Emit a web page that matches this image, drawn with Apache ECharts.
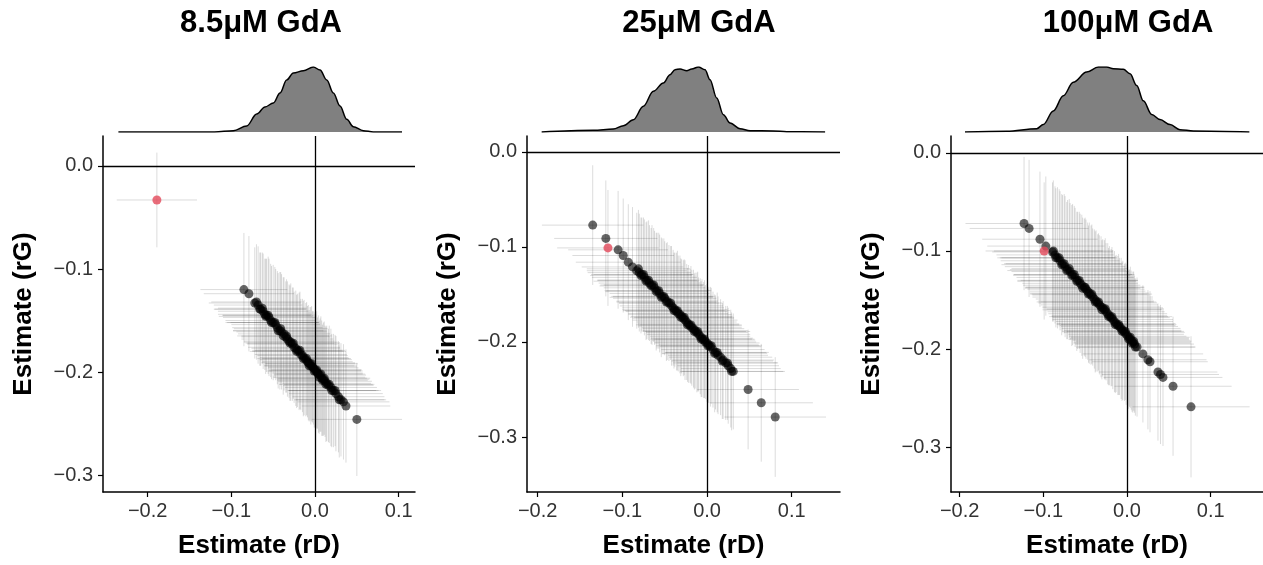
<!DOCTYPE html>
<html><head><meta charset="utf-8">
<script src="https://cdn.jsdelivr.net/npm/echarts@6.0.0/dist/echarts.min.js"></script>
<style>html,body{margin:0;padding:0;background:#fff}#c{width:1263px;height:565px}</style>
</head><body><div id="c"></div>
<script>
// ---------- DATA ----------
const panelTitles = ['8.5μM GdA', '25μM GdA', '100μM GdA'];
const xTickValues = [-0.2, -0.1, 0.0, 0.1];
const yTickValues = [-0.3, -0.2, -0.1, 0.0];
const xName = 'Estimate (rD)';
const yName = 'Estimate (rG)';

// Panel 1 (8.5µM)
const p1_rD = [
 -0.085,-0.079,-0.072,-0.068,-0.065,-0.062,-0.060,-0.058,-0.055,-0.053,
 -0.050,-0.047,-0.045,-0.042,-0.040,-0.037,-0.035,-0.033,-0.031,-0.029,
 -0.027,-0.025,-0.023,-0.021,-0.019,-0.017,-0.015,-0.013,-0.011,-0.009,
 -0.008,-0.006,-0.005,-0.003,-0.002,0.000,0.001,0.003,0.004,0.006,
 0.008,0.010,0.012,0.014,0.016,0.019,0.022,0.025,0.028,0.031,
 0.034,0.037,0.050,
 -0.070,-0.066,-0.063,-0.059,-0.056,-0.052,-0.048,-0.044,-0.041,-0.038,
 -0.034,-0.030,-0.026,-0.022,-0.018,-0.014,-0.010,-0.007,-0.004,-0.001,
 0.002,0.005,0.007,0.009,0.011,0.013,0.017,0.020,0.024,0.029];
const p1_rG = [
 -0.120,-0.124,-0.133,-0.135,-0.139,-0.141,-0.144,-0.145,-0.147,-0.150,
 -0.152,-0.154,-0.157,-0.160,-0.161,-0.163,-0.166,-0.168,-0.170,-0.171,
 -0.173,-0.176,-0.177,-0.179,-0.180,-0.183,-0.184,-0.186,-0.188,-0.190,
 -0.191,-0.192,-0.194,-0.195,-0.196,-0.198,-0.199,-0.201,-0.202,-0.203,
 -0.206,-0.207,-0.209,-0.211,-0.213,-0.215,-0.218,-0.221,-0.224,-0.227,
 -0.229,-0.233,-0.246,
 -0.132,-0.139,-0.138,-0.146,-0.145,-0.152,-0.152,-0.160,-0.158,-0.165,
 -0.165,-0.172,-0.172,-0.180,-0.179,-0.187,-0.187,-0.194,-0.192,-0.199,
 -0.198,-0.205,-0.202,-0.208,-0.206,-0.212,-0.212,-0.218,-0.218,-0.227];
const p1_ciD = [
 0.052,0.054,0.055,0.053,0.055,0.054,0.056,0.053,0.055,0.054,
 0.055,0.053,0.054,0.056,0.054,0.055,0.053,0.055,0.054,0.056,
 0.054,0.055,0.053,0.054,0.056,0.055,0.054,0.053,0.055,0.054,
 0.056,0.054,0.055,0.053,0.054,0.055,0.056,0.054,0.053,0.055,
 0.054,0.055,0.056,0.053,0.054,0.055,0.054,0.056,0.055,0.054,
 0.055,0.053,0.054,
 0.054,0.055,0.053,0.056,0.054,0.055,0.053,0.054,0.056,0.055,
 0.054,0.053,0.055,0.056,0.054,0.055,0.053,0.054,0.055,0.056,
 0.054,0.055,0.053,0.054,0.055,0.056,0.054,0.053,0.055,0.054];
const p1_ciG = [
 0.055,0.056,0.054,0.057,0.055,0.056,0.054,0.055,0.057,0.055,
 0.056,0.054,0.055,0.057,0.056,0.055,0.054,0.056,0.055,0.057,
 0.055,0.054,0.056,0.055,0.057,0.054,0.055,0.056,0.055,0.054,
 0.056,0.055,0.057,0.054,0.055,0.056,0.055,0.054,0.057,0.055,
 0.056,0.055,0.054,0.056,0.055,0.057,0.055,0.056,0.054,0.055,
 0.056,0.055,0.055,
 0.056,0.055,0.054,0.056,0.057,0.055,0.054,0.056,0.055,0.057,
 0.055,0.056,0.054,0.055,0.057,0.056,0.055,0.054,0.056,0.055,
 0.057,0.055,0.056,0.054,0.055,0.056,0.057,0.055,0.054,0.056];
const p1_hl = {rD: -0.189, rG: -0.033, ciD: 0.048, ciG: 0.046};
const p1_densX = [-0.235,-0.120,-0.0976,-0.0817,-0.0697,-0.0598,-0.0498,-0.0418,-0.0339,-0.0259,-0.0139,-0.002,0.006,0.014,0.0219,0.0299,0.0379,0.0458,0.0578,0.0697,0.104];
const p1_densY = [0,0,0.26,1.2,3.6,5.0,5.8,7.8,10.4,11.8,12.26,13.0,12.4,10.4,7.8,5.2,2.54,1.06,0.26,0,0];

// Panel 2 (25µM)
const p2_rD = [
 -0.135,-0.1195,-0.105,-0.099,-0.093,-0.088,-0.083,-0.080,-0.077,-0.074,
 -0.071,-0.068,-0.065,-0.062,-0.059,-0.056,-0.053,-0.050,-0.047,-0.045,
 -0.042,-0.040,-0.038,-0.036,-0.034,-0.032,-0.030,-0.028,-0.026,-0.024,
 -0.022,-0.020,-0.018,-0.016,-0.014,-0.012,-0.010,-0.008,-0.006,-0.004,
 -0.002,0.000,0.002,0.004,0.007,0.010,0.013,0.016,0.019,0.022,
 0.025,0.028,0.031,0.0485,0.064,0.0805,
 -0.081,-0.078,-0.075,-0.072,-0.069,-0.066,-0.063,-0.060,-0.057,-0.054,
 -0.051,-0.048,-0.043,-0.039,-0.035,-0.031,-0.027,-0.023,-0.019,-0.015,
 -0.011,-0.007,-0.003,0.001,0.005,0.009,0.012,0.018,0.024,0.029];
const p2_rG = [
 -0.077,-0.091,-0.103,-0.109,-0.116,-0.121,-0.125,-0.127,-0.129,-0.132,
 -0.135,-0.138,-0.140,-0.143,-0.146,-0.149,-0.152,-0.154,-0.157,-0.159,
 -0.162,-0.164,-0.166,-0.168,-0.170,-0.171,-0.173,-0.175,-0.177,-0.179,
 -0.181,-0.183,-0.185,-0.186,-0.188,-0.190,-0.192,-0.194,-0.196,-0.198,
 -0.200,-0.201,-0.203,-0.205,-0.208,-0.211,-0.214,-0.216,-0.219,-0.222,
 -0.225,-0.228,-0.231,-0.250,-0.264,-0.279,
 -0.123,-0.130,-0.129,-0.136,-0.135,-0.141,-0.140,-0.147,-0.146,-0.153,
 -0.152,-0.158,-0.159,-0.167,-0.167,-0.174,-0.174,-0.182,-0.182,-0.189,
 -0.189,-0.197,-0.197,-0.204,-0.204,-0.212,-0.211,-0.220,-0.222,-0.231];
const p2_ciD = [
 0.060,0.061,0.059,0.060,0.062,0.060,0.059,0.061,0.060,0.062,
 0.059,0.060,0.061,0.060,0.062,0.059,0.060,0.061,0.060,0.059,
 0.061,0.060,0.062,0.060,0.059,0.061,0.060,0.060,0.062,0.059,
 0.060,0.061,0.059,0.060,0.062,0.060,0.061,0.059,0.060,0.061,
 0.060,0.062,0.059,0.060,0.061,0.060,0.059,0.061,0.060,0.062,
 0.060,0.059,0.061,0.060,0.061,0.060,
 0.061,0.060,0.059,0.062,0.060,0.061,0.059,0.060,0.062,0.061,
 0.060,0.059,0.061,0.060,0.062,0.060,0.059,0.061,0.060,0.061,
 0.062,0.060,0.059,0.061,0.060,0.062,0.061,0.060,0.059,0.061];
const p2_ciG = [
 0.063,0.061,0.062,0.060,0.061,0.063,0.061,0.062,0.060,0.061,
 0.062,0.061,0.063,0.060,0.061,0.062,0.061,0.060,0.062,0.061,
 0.063,0.061,0.060,0.062,0.061,0.062,0.060,0.061,0.063,0.061,
 0.062,0.060,0.061,0.062,0.061,0.063,0.060,0.061,0.062,0.061,
 0.060,0.062,0.061,0.063,0.061,0.060,0.062,0.061,0.062,0.060,
 0.061,0.062,0.061,0.063,0.062,0.063,
 0.062,0.061,0.060,0.062,0.063,0.061,0.060,0.062,0.061,0.063,
 0.061,0.062,0.060,0.061,0.063,0.062,0.061,0.060,0.062,0.061,
 0.063,0.061,0.062,0.060,0.061,0.062,0.063,0.061,0.060,0.062];
const p2_hl = {rD: -0.117, rG: -0.101, ciD: 0.060, ciG: 0.061};
const p2_densX = [-0.1953,-0.1343,-0.1107,-0.0988,-0.087,-0.0752,-0.0634,-0.0516,-0.0437,-0.0378,-0.0319,-0.024,-0.0181,-0.0102,-0.0024,0.0035,0.0114,0.0193,0.0272,0.039,0.0508,0.0783,0.0941,0.1394];
const p2_densY = [0,0.34,0.6,1.26,2.46,5.14,8.14,9.8,11.46,12.46,12.6,12.26,12.6,13.0,12.46,10.46,6.8,3.46,1.8,0.66,0.26,0.2,0.06,0];

// Panel 3 (100µM)
const p3_rD = [
 -0.123,-0.117,-0.104,-0.097,-0.089,-0.086,-0.083,-0.080,-0.077,-0.074,
 -0.071,-0.068,-0.065,-0.062,-0.059,-0.056,-0.054,-0.051,-0.049,-0.047,
 -0.045,-0.043,-0.041,-0.039,-0.037,-0.035,-0.033,-0.031,-0.029,-0.027,
 -0.025,-0.023,-0.021,-0.019,-0.017,-0.015,-0.013,-0.011,-0.009,-0.007,
 -0.005,-0.003,-0.001,0.001,0.003,0.005,0.007,0.009,0.012,0.019,
 0.025,0.0275,0.037,0.040,0.043,0.055,0.0765,
 -0.088,-0.085,-0.081,-0.078,-0.075,-0.072,-0.069,-0.066,-0.063,-0.060,
 -0.057,-0.053,-0.050,-0.046,-0.042,-0.038,-0.034,-0.030,-0.026,-0.022,
 -0.018,-0.014,-0.010,-0.006,-0.002,0.002,0.004,0.006,0.008,0.010];
const p3_rG = [
 -0.072,-0.077,-0.088,-0.095,-0.101,-0.104,-0.107,-0.110,-0.113,-0.116,
 -0.119,-0.121,-0.124,-0.127,-0.130,-0.133,-0.135,-0.137,-0.139,-0.141,
 -0.143,-0.145,-0.147,-0.149,-0.151,-0.153,-0.155,-0.157,-0.158,-0.160,
 -0.162,-0.164,-0.166,-0.168,-0.170,-0.172,-0.174,-0.176,-0.177,-0.179,
 -0.181,-0.183,-0.185,-0.187,-0.189,-0.191,-0.193,-0.195,-0.198,-0.205,
 -0.211,-0.213,-0.2235,-0.226,-0.229,-0.238,-0.259,
 -0.100,-0.107,-0.107,-0.114,-0.113,-0.120,-0.118,-0.125,-0.124,-0.131,
 -0.130,-0.138,-0.137,-0.144,-0.144,-0.152,-0.152,-0.160,-0.159,-0.167,
 -0.167,-0.175,-0.175,-0.182,-0.182,-0.190,-0.188,-0.194,-0.192,-0.198];
const p3_ciD = [
 0.070,0.071,0.069,0.070,0.072,0.070,0.069,0.071,0.070,0.072,
 0.069,0.070,0.071,0.070,0.072,0.069,0.070,0.071,0.070,0.069,
 0.071,0.070,0.072,0.070,0.069,0.071,0.070,0.070,0.072,0.069,
 0.070,0.071,0.069,0.070,0.072,0.070,0.071,0.069,0.070,0.071,
 0.070,0.072,0.069,0.070,0.071,0.070,0.069,0.071,0.070,0.072,
 0.070,0.069,0.071,0.070,0.071,0.070,0.070,
 0.071,0.070,0.069,0.072,0.070,0.071,0.069,0.070,0.072,0.071,
 0.070,0.069,0.071,0.070,0.072,0.070,0.069,0.071,0.070,0.071,
 0.072,0.070,0.069,0.071,0.070,0.072,0.071,0.070,0.069,0.071];
const p3_ciG = [
 0.068,0.070,0.069,0.071,0.071,0.070,0.072,0.071,0.070,0.072,
 0.071,0.070,0.072,0.071,0.070,0.071,0.072,0.070,0.071,0.070,
 0.072,0.071,0.070,0.071,0.072,0.070,0.071,0.072,0.070,0.071,
 0.070,0.072,0.071,0.070,0.071,0.072,0.070,0.071,0.070,0.072,
 0.071,0.070,0.072,0.071,0.070,0.071,0.072,0.070,0.071,0.070,
 0.071,0.072,0.070,0.071,0.070,0.071,0.072,
 0.072,0.071,0.070,0.072,0.071,0.070,0.071,0.072,0.070,0.071,
 0.070,0.072,0.071,0.070,0.071,0.072,0.070,0.071,0.072,0.070,
 0.071,0.070,0.072,0.071,0.070,0.071,0.072,0.070,0.071,0.070];
const p3_hl = {rD: -0.099, rG: -0.100, ciD: 0.070, ciG: 0.070};
const p3_densX = [-0.1936,-0.1438,-0.1079,-0.1,-0.0881,-0.0761,-0.0642,-0.0482,-0.0343,-0.0243,-0.0163,-0.0044,0.0036,0.0116,0.0195,0.0295,0.0394,0.0514,0.0633,0.0793,0.1462];
const p3_densY = [0,0.14,0.66,1.46,4.14,7.14,9.8,11.8,12.8,12.8,12.46,12.34,11.46,9.14,6.14,3.46,2.46,1.46,0.46,0.2,0];

// ---------- LAYOUT ----------
const panels = [
  {rD:p1_rD, rG:p1_rG, ciD:p1_ciD, ciG:p1_ciG, hl:p1_hl, dX:p1_densX, dY:p1_densY,
   left:103, width:312, xMin:-0.2534, xMax:0.1195, yMin:-0.3165, yMax:0.0291, titleX:256},
  {rD:p2_rD, rG:p2_rG, ciD:p2_ciD, ciG:p2_ciG, hl:p2_hl, dX:p2_densX, dY:p2_densY,
   left:527, width:313, xMin:-0.2126, xMax:0.157, yMin:-0.3579, yMax:0.0168, titleX:694},
  {rD:p3_rD, rG:p3_rG, ciD:p3_ciD, ciG:p3_ciG, hl:p3_hl, dX:p3_densX, dY:p3_densY,
   left:951, width:312, xMin:-0.2103, xMax:0.1625, yMin:-0.3459, yMax:0.0173, titleX:1123}
];
const FONT = 'Liberation Sans, Arial, Helvetica, sans-serif';
const MAIN_TOP = 136, MAIN_H = 356, DENS_TOP = 67, DENS_H = 65;

function fmt(v){ if (Math.abs(v) < 1e-9) return '0.0'; return (v < 0 ? '\u2212' : '') + Math.abs(v).toFixed(1); }

function errRender(params, api){
  const x = api.value(0), y = api.value(1), dx = api.value(2), dy = api.value(3);
  const l = api.coord([x - dx, y]), r = api.coord([x + dx, y]);
  const t = api.coord([x, y + dy]), b = api.coord([x, y - dy]);
  const st = {stroke:'rgba(0,0,0,0.14)', lineWidth:1};
  return {type:'group', children:[
    {type:'line', shape:{x1:l[0], y1:l[1], x2:r[0], y2:r[1]}, style:st},
    {type:'line', shape:{x1:b[0], y1:b[1], x2:t[0], y2:t[1]}, style:st}
  ]};
}

const grid = [], xAxis = [], yAxis = [], series = [], title = [];
panels.forEach((p, i) => {
  grid.push({left:p.left, width:p.width, top:MAIN_TOP, height:MAIN_H, containLabel:false});
  title.push({text:panelTitles[i], left:p.titleX, top:3, textAlign:'center',
    textStyle:{fontFamily:FONT, fontSize:31, fontWeight:'bold', color:'#000'}});
  xAxis.push({type:'value', gridIndex:i, min:p.xMin, max:p.xMax,
    axisLine:{show:true, onZero:false, lineStyle:{color:'#000', width:1.5}},
    axisTick:{show:true, length:5, customValues:xTickValues, lineStyle:{color:'#000', width:1.2}},
    axisLabel:{customValues:xTickValues, formatter:fmt, color:'#333', fontSize:20, margin:9, fontFamily:FONT},
    splitLine:{show:false},
    name:xName, nameLocation:'middle', nameGap:41,
    nameTextStyle:{fontFamily:FONT, fontSize:26, fontWeight:'bold', color:'#000'}});
  yAxis.push({type:'value', gridIndex:i, min:p.yMin, max:p.yMax,
    axisLine:{show:true, onZero:false, lineStyle:{color:'#000', width:1.5}},
    axisTick:{show:true, length:5, customValues:yTickValues, lineStyle:{color:'#000', width:1.2}},
    axisLabel:{customValues:yTickValues, formatter:fmt, color:'#333', fontSize:20, margin:10, fontFamily:FONT},
    splitLine:{show:false},
    name:yName, nameLocation:'middle', nameGap:66, nameRotate:90,
    nameTextStyle:{fontFamily:FONT, fontSize:26, fontWeight:'bold', color:'#000'}});

  const errData = p.rD.map((d, k) => [d, p.rG[k], p.ciD[k], p.ciG[k]]);
  errData.push([p.hl.rD, p.hl.rG, p.hl.ciD, p.hl.ciG]);
  series.push({type:'custom', xAxisIndex:i, yAxisIndex:i, renderItem:errRender, data:errData, silent:true, z:1,
    markLine:{silent:true, symbol:['none','none'], label:{show:false},
      lineStyle:{color:'#000', width:1.3, type:'solid'},
      data:[{xAxis:0}, {yAxis:0}]}});
  series.push({type:'scatter', xAxisIndex:i, yAxisIndex:i, symbolSize:9, z:3, silent:true,
    itemStyle:{color:'rgba(0,0,0,0.75)'},
    data:p.rD.map((d, k) => [d, p.rG[k]])});
  series.push({type:'scatter', xAxisIndex:i, yAxisIndex:i, symbolSize:9, z:4, silent:true,
    itemStyle:{color:'#E4485A'},
    data:[[p.hl.rD, p.hl.rG]]});
});
panels.forEach((p, i) => {
  const gi = 3 + i;
  grid.push({left:p.left, width:p.width, top:DENS_TOP, height:DENS_H});
  xAxis.push({type:'value', gridIndex:gi, min:p.xMin, max:p.xMax, show:false});
  yAxis.push({type:'value', gridIndex:gi, min:0, max:Math.max(...p.dY), show:false});
  series.push({type:'line', xAxisIndex:gi, yAxisIndex:gi, showSymbol:false, symbol:'none',
    smooth:0.35, smoothMonotone:'x', silent:true,
    lineStyle:{color:'#000', width:1.5},
    areaStyle:{color:'#808080', opacity:1},
    data:p.dX.map((x, k) => [x, p.dY[k]])});
});

const chart = echarts.init(document.getElementById('c'), null, {renderer:'canvas'});
chart.setOption({animation:false, backgroundColor:'#fff', title, grid, xAxis, yAxis, series});
</script></body></html>
